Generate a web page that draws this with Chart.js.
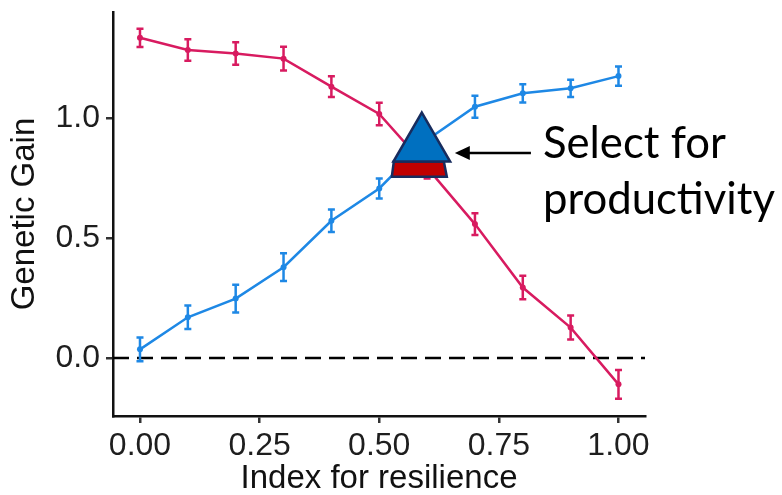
<!DOCTYPE html>
<html>
<head>
<meta charset="utf-8">
<script src="https://cdn.jsdelivr.net/npm/chart.js@4.4.1/dist/chart.umd.min.js"></script>
<style>
  body { margin: 0; background: #fff; }
  #wrap { width: 782px; height: 495px; }
</style>
</head>
<body>
<div id="wrap"><canvas id="gainChart"></canvas></div>
<script>
// x: weight on resilience in the selection index
const indexValues = [0, 0.1, 0.2, 0.3, 0.4, 0.5, 0.6, 0.7, 0.8, 0.9, 1.0];
// red line (productivity) and its error
const productivityGain = [1.337, 1.286, 1.271, 1.25, 1.133, 1.019, 0.795, 0.559, 0.294, 0.127, -0.110];
const productivitySE = [0.038, 0.045, 0.047, 0.05, 0.043, 0.047, 0.045, 0.045, 0.049, 0.05, 0.06];
// blue line (resilience) and its error
const resilienceGain = [0.036, 0.17, 0.248, 0.379, 0.573, 0.708, 0.91, 1.049, 1.105, 1.126, 1.177];
const resilienceSE = [0.05, 0.049, 0.058, 0.058, 0.047, 0.042, 0.045, 0.046, 0.038, 0.036, 0.04];

const xTicks = [0, 0.25, 0.5, 0.75, 1];
const yTicks = [0, 0.5, 1];
const xRange = [-0.0564, 1.0554];
const yRange = [-0.2422, 1.4447];

// annotation anchor, in data units
const marker = { x: 0.589, top: 1.025, base: 0.82, bottom: 0.757 };
const arrow = { y: 0.856, tip: 0.658, tail: 0.817 };
const noteLines = ["Select for", "productivity"];

const RED = "#D81B60";
const BLUE = "#1E88E5";
const AXIS_FONT = "'Liberation Sans', Arial, sans-serif";

const toPoints = (ys) => indexValues.map((x, i) => ({ x: x, y: ys[i] }));

const errorBars = {
  id: "errorBars",
  afterDatasetsDraw(chart) {
    const ctx = chart.ctx;
    const ys = chart.scales.y;
    chart.data.datasets.forEach((ds, i) => {
      if (!ds.errors) return;
      const meta = chart.getDatasetMeta(i);
      ctx.save();
      ctx.strokeStyle = ds.borderColor;
      ctx.lineWidth = 2.5;
      meta.data.forEach((pt, j) => {
        const v = ds.data[j].y;
        const hi = ys.getPixelForValue(v + ds.errors[j]);
        const lo = ys.getPixelForValue(v - ds.errors[j]);
        ctx.beginPath();
        ctx.moveTo(pt.x, hi); ctx.lineTo(pt.x, lo);
        ctx.moveTo(pt.x - 3.5, hi); ctx.lineTo(pt.x + 3.5, hi);
        ctx.moveTo(pt.x - 3.5, lo); ctx.lineTo(pt.x + 3.5, lo);
        ctx.stroke();
      });
      ctx.restore();
    });
  }
};

const annotation = {
  id: "annotation",
  afterDraw(chart) {
    const ctx = chart.ctx;
    const xs = chart.scales.x, ys = chart.scales.y;
    const cx = xs.getPixelForValue(marker.x);
    const topY = ys.getPixelForValue(marker.top);
    const baseY = ys.getPixelForValue(marker.base);
    const botY = ys.getPixelForValue(marker.bottom);
    ctx.save();
    ctx.lineWidth = 2.5;
    ctx.strokeStyle = "#172C5E";
    ctx.lineJoin = "miter";
    // red band under the triangle
    ctx.beginPath();
    ctx.moveTo(cx - 28, baseY);
    ctx.lineTo(cx + 22, baseY);
    ctx.lineTo(cx + 25, botY);
    ctx.lineTo(cx - 30, botY);
    ctx.closePath();
    ctx.fillStyle = "#C00000";
    ctx.fill(); ctx.stroke();
    // blue triangle
    ctx.beginPath();
    ctx.moveTo(cx, topY);
    ctx.lineTo(cx + 28.3, baseY);
    ctx.lineTo(cx - 28.4, baseY);
    ctx.closePath();
    ctx.fillStyle = "#0070C0";
    ctx.fill(); ctx.stroke();

    // arrow
    const ay = ys.getPixelForValue(arrow.y);
    const tipX = xs.getPixelForValue(arrow.tip);
    const tailX = xs.getPixelForValue(arrow.tail);
    ctx.strokeStyle = "#000";
    ctx.fillStyle = "#000";
    ctx.lineWidth = 2.7;
    ctx.beginPath();
    ctx.moveTo(tipX + 10, ay); ctx.lineTo(tailX, ay);
    ctx.stroke();
    ctx.beginPath();
    ctx.moveTo(tipX, ay);
    ctx.lineTo(tipX + 15, ay - 7);
    ctx.lineTo(tipX + 15, ay + 7);
    ctx.closePath();
    ctx.fill();

    // note text, sized so "productivity" spans ~232px
    ctx.font = "47px Lato, 'Noto Sans', sans-serif";
    const w = ctx.measureText(noteLines[1]).width;
    const size = 47 * 232 / w;
    ctx.font = size.toFixed(1) + "px Lato, 'Noto Sans', sans-serif";
    ctx.textBaseline = "alphabetic";
    ctx.textAlign = "left";
    noteLines.forEach((t, k) => {
      ctx.fillText(t, tailX + 12, ay + 5.5 + k * 55.6);
    });
    ctx.restore();
  }
};

new Chart(document.getElementById("gainChart"), {
  type: "line",
  data: {
    datasets: [
      {
        label: "Productivity",
        data: toPoints(productivityGain),
        errors: productivitySE,
        borderColor: RED,
        backgroundColor: RED,
        borderWidth: 2.5,
        pointRadius: 3,
        pointBorderWidth: 0,
        tension: 0,
        order: 1
      },
      {
        label: "Resilience",
        data: toPoints(resilienceGain),
        errors: resilienceSE,
        borderColor: BLUE,
        backgroundColor: BLUE,
        borderWidth: 2.5,
        pointRadius: 3,
        pointBorderWidth: 0,
        tension: 0,
        order: 2
      },
      {
        label: "zero",
        data: [{ x: xRange[0], y: 0 }, { x: xRange[1], y: 0 }],
        borderColor: "#000",
        borderWidth: 2.5,
        borderDash: [16, 8],
        pointRadius: 0,
        order: 3
      }
    ]
  },
  options: {
    responsive: true,
    maintainAspectRatio: false,
    animation: false,
    layout: { padding: { left: 0, right: 137, top: 12, bottom: 0 } },
    plugins: { legend: { display: false }, tooltip: { enabled: false } },
    scales: {
      x: {
        type: "linear",
        min: xRange[0],
        max: xRange[1],
        afterBuildTicks: (s) => { s.ticks = xTicks.map((v) => ({ value: v })); },
        afterFit: (s) => { s.height = 79; s.paddingLeft = 0; s.paddingRight = 0; },
        ticks: {
          callback: (v) => Number(v).toFixed(2),
          font: { family: AXIS_FONT, size: 32 },
          color: "#1e1e1e",
          padding: 4,
          maxRotation: 0,
          autoSkip: false
        },
        grid: { drawOnChartArea: false, tickLength: 7, lineWidth: 2.5, color: "#333" },
        border: { color: "#111", width: 2.5 },
        title: {
          display: true,
          text: "Index for resilience",
          font: { family: AXIS_FONT, size: 33, lineHeight: 1 },
          color: "#111",
          padding: 0
        }
      },
      y: {
        min: yRange[0],
        max: yRange[1],
        afterBuildTicks: (s) => { s.ticks = yTicks.map((v) => ({ value: v })); },
        afterFit: (s) => { s.width = 113; s.paddingTop = 0; s.paddingBottom = 0; },
        ticks: {
          callback: (v) => Number(v).toFixed(1),
          font: { family: AXIS_FONT, size: 32 },
          color: "#1e1e1e",
          padding: 6,
          autoSkip: false
        },
        grid: { drawOnChartArea: false, tickLength: 7, lineWidth: 2.5, color: "#333" },
        border: { color: "#111", width: 2.5 },
        title: {
          display: true,
          text: "Genetic Gain",
          font: { family: AXIS_FONT, size: 33, lineHeight: 1 },
          color: "#111",
          padding: { top: 8, bottom: 0 }
        }
      }
    }
  },
  plugins: [errorBars, annotation]
});
</script>
</body>
</html>
